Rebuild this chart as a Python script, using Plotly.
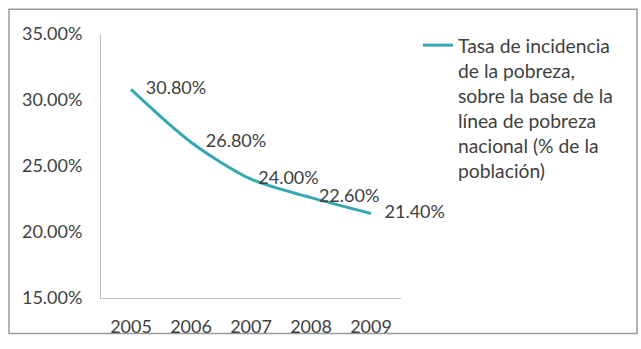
import plotly.graph_objects as go

years = ["2005", "2006", "2007", "2008", "2009"]
values = [0.308, 0.268, 0.240, 0.226, 0.214]
series_name = "Tasa de incidencia<br>de la pobreza,<br>sobre la base de la<br>línea de pobreza<br>nacional (% de la<br>población)"
y_ticks = [0.15, 0.20, 0.25, 0.30, 0.35]

# invisible marker sizes only used to space each data label from its point
label_gap = [22, 22, 10, 11, 20]

FONT = "Lato"
TXT = "#404040"

fig = go.Figure()
fig.add_trace(go.Scatter(
    x=years, y=values, mode="lines+markers+text", name=series_name,
    line=dict(color="#35A8B3", width=3, shape="spline", smoothing=0.8),
    marker=dict(size=label_gap, color="rgba(0,0,0,0)", line=dict(width=0)),
    text=[f"{v:.2%}" for v in values], textposition="middle right",
    textfont=dict(family=FONT, size=18, color=TXT),
    cliponaxis=False,
    showlegend=True,
))

W, H = 641, 349
L, R, T, B = 101, 240, 34, 48
pw, ph = W - L - R, H - T - B

def px(x):
    return (x - L) / pw

def py(y):
    return (H - B - y) / ph

fig.add_shape(type="rect", xref="paper", yref="paper",
              x0=px(9), x1=px(637), y0=py(337), y1=py(9),
              line=dict(color="#9a9a9a", width=1.5), layer="below")

fig.update_layout(
    width=W, height=H,
    margin=dict(l=L, r=R, t=T, b=B),
    paper_bgcolor="white", plot_bgcolor="white",
    font=dict(family=FONT, size=18, color=TXT),
    showlegend=True,
    legend=dict(x=px(418), y=py(26), xanchor="left", yanchor="top",
                font=dict(family=FONT, size=19.3, color=TXT),
                valign="top", bgcolor="rgba(0,0,0,0)", itemwidth=30),
    xaxis=dict(type="category", range=[-0.5, 4.5], showgrid=False,
               showline=True, linecolor="#bfbfbf", linewidth=1,
               ticks="outside", ticklen=12, tickcolor="rgba(0,0,0,0)",
               tickfont=dict(family=FONT, size=18, color=TXT), zeroline=False),
    yaxis=dict(range=[0.15, 0.35], tickvals=y_ticks, tickformat=".2%",
               showgrid=False, showline=True, linecolor="#bfbfbf", linewidth=1,
               ticks="outside", ticklen=14, tickcolor="rgba(0,0,0,0)",
               tickfont=dict(family=FONT, size=18, color=TXT), zeroline=False),
)

fig.write_html("out.html")
